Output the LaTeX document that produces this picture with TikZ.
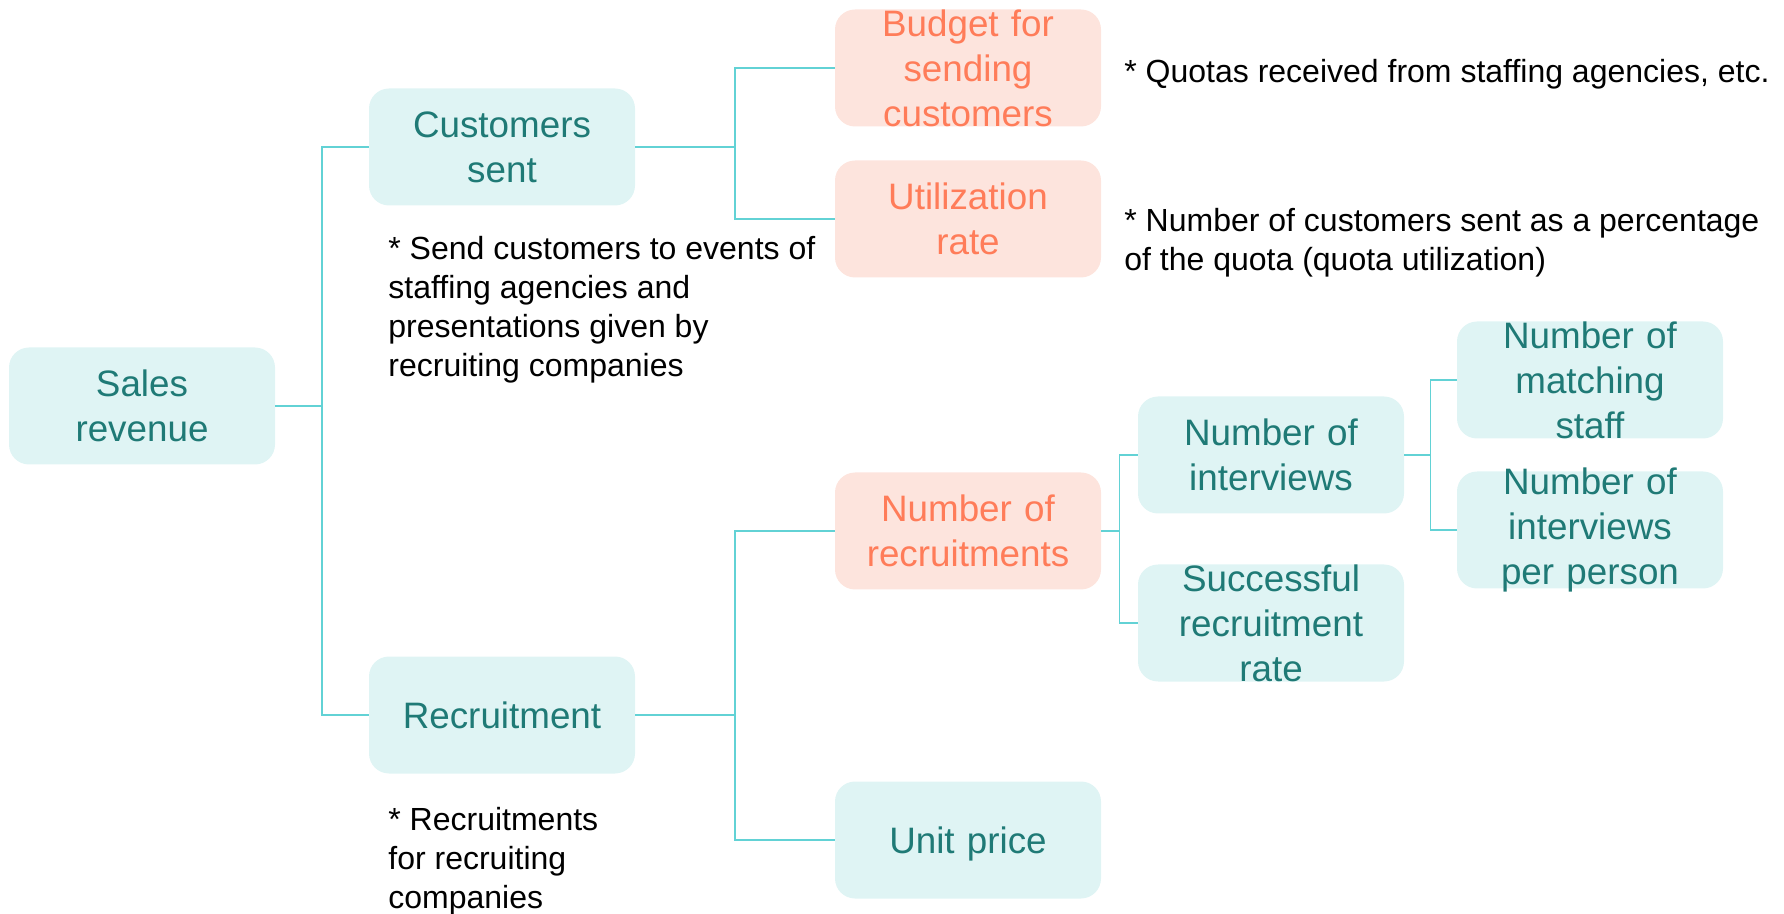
\documentclass[tikz,border=0pt]{standalone}
\usepackage{fontspec}
\setmainfont{Liberation Sans}
\usetikzlibrary{calc}

\definecolor{tealfill}{HTML}{DFF4F4}
\definecolor{tealtext}{HTML}{1F7A76}
\definecolor{coralfill}{HTML}{FDE4DD}
\definecolor{coraltext}{HTML}{FF7C59}
\definecolor{linkcol}{HTML}{62D2D5}

\begin{document}
\begin{tikzpicture}[x=0.5pt, y=-0.5pt,
    box/.style={rounded corners=10pt, minimum width=133pt, minimum height=58.5pt,
        text width=133pt, inner xsep=0pt, inner ysep=-5pt, align=center,
        font=\fontsize{18.4}{22.5}\selectfont},
    kpi/.style={box, fill=tealfill, text=tealtext},
    hot/.style={box, fill=coralfill, text=coraltext},
    note/.style={anchor=base west, inner sep=0pt, align=left,
        font=\fontsize{16}{19.5}\selectfont},
    link/.style={draw=linkcol, line width=0.8pt}]
    \useasboundingbox (0,0) rectangle (1784,914);

    % metric tree
    \node[kpi] (sales) at (142,406) {Sales\\revenue};
    \node[kpi] (cust) at (502,147) {Customers\\sent};
    \node[kpi] (recr) at (502,715) {Recruitment};
    \node[hot] (budget) at (968,68) {Budget for\\sending\\customers};
    \node[hot] (util) at (968,219) {Utilization\\rate};
    \node[hot] (hires) at (968,531) {Number of\\recruitments};
    \node[kpi, text depth=0pt] (price) at (968,840) {Unit price};
    \node[kpi] (intv) at (1271,455) {Number of\\interviews};
    \node[kpi] (succ) at (1271,623) {Successful\\recruitment\\rate};
    \node[kpi] (match) at (1590,380) {Number of\\matching\\staff};
    \node[kpi] (perhead) at (1590,530) {Number of\\interviews\\per person};

    % elbow connectors
    \foreach \a/\b in {sales/cust, sales/recr, cust/budget, cust/util, recr/hires,
        recr/price, hires/intv, hires/succ, intv/match, intv/perhead}
      \draw[link] (\a.east) -| ($(\a.east)!0.5!(\b.west)$) |- (\b.west);

    % remarks (anchored on the last line)
    \node[note] (quota) at (1124,83) {* Quotas received from staffing agencies, etc.};
    \node[note] (usage) at (1124,271) {* Number of customers sent as a percentage\\of the quota (quota utilization)};
    \node[note] (events) at (388,377) {* Send customers to events of\\staffing agencies and\\presentations given by\\recruiting companies};
    \node[note] (clients) at (388,908) {* Recruitments\\for recruiting\\companies};
\end{tikzpicture}
\end{document}
